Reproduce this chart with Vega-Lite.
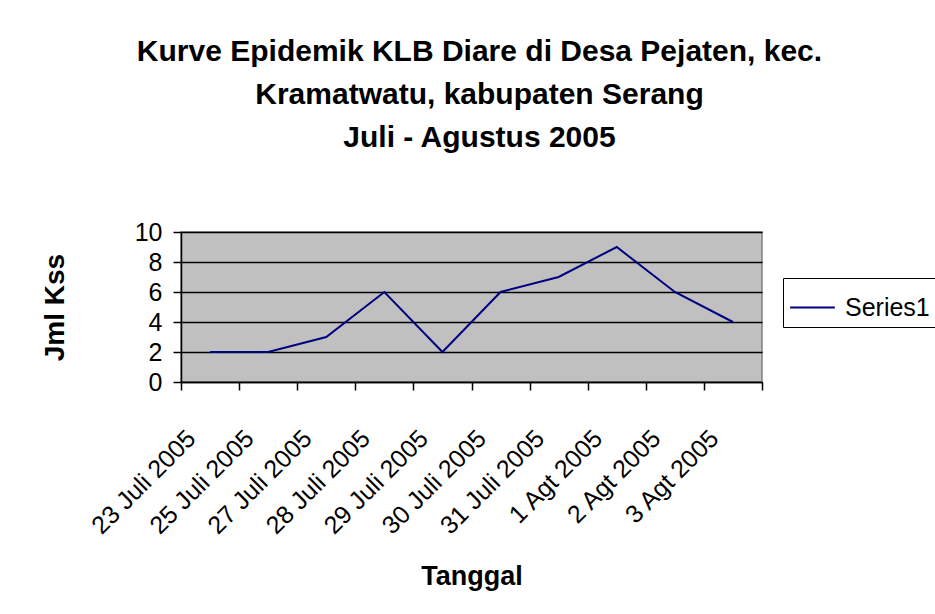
{
  "$schema": "https://vega.github.io/schema/vega-lite/v6.json",
  "width": 581,
  "height": 150,
  "autosize": {"type": "none"},
  "padding": {"left": 181, "top": 232, "right": 173, "bottom": 232},
  "background": "white",
  "title": {
    "text": ["Kurve Epidemik KLB Diare di Desa Pejaten, kec.", "Kramatwatu, kabupaten Serang", "Juli - Agustus 2005"],
    "font": "Liberation Sans",
    "fontSize": 30,
    "fontWeight": "bold",
    "color": "black",
    "anchor": "middle",
    "frame": "group",
    "baseline": "bottom",
    "lineHeight": 43,
    "offset": 37,
    "dx": 8
  },
  "data": {
    "values": [
      {"Tanggal": "23 Juli 2005", "Jml": 2},
      {"Tanggal": "25 Juli 2005", "Jml": 2},
      {"Tanggal": "27 Juli 2005", "Jml": 3},
      {"Tanggal": "28 Juli 2005", "Jml": 6},
      {"Tanggal": "29 Juli 2005", "Jml": 2},
      {"Tanggal": "30 Juli 2005", "Jml": 6},
      {"Tanggal": "31 Juli 2005", "Jml": 7},
      {"Tanggal": "1 Agt  2005", "Jml": 9},
      {"Tanggal": "2 Agt 2005", "Jml": 6},
      {"Tanggal": "3 Agt 2005", "Jml": 4}
    ]
  },
  "mark": {"type": "line", "strokeWidth": 2, "interpolate": "linear"},
  "encoding": {
    "x": {
      "field": "Tanggal",
      "type": "ordinal",
      "sort": null,
      "scale": {"type": "band", "paddingInner": 0, "paddingOuter": 0},
      "axis": {
        "title": "Tanggal",
        "titleFont": "Liberation Sans",
        "titleFontSize": 27,
        "titleFontWeight": "bold",
        "titleColor": "black",
        "titleY": 202,
        "titleBaseline": "alphabetic",
        "labelAngle": -45,
        "labelAlign": "right",
        "labelBaseline": "middle",
        "labelFont": "Liberation Sans",
        "labelFontSize": 25,
        "labelColor": "black",
        "labelOffset": -19,
        "labelPadding": 44,
        "labelOverlap": false,
        "labelBound": false,
        "tickBand": "extent",
        "ticks": true,
        "tickSize": 8,
        "tickColor": "black",
        "tickWidth": 1.5,
        "domainColor": "black",
        "domainWidth": 1.5,
        "grid": false
      }
    },
    "y": {
      "field": "Jml",
      "type": "quantitative",
      "scale": {"domain": [0, 10], "nice": false},
      "axis": {
        "title": "Jml Kss",
        "titleFont": "Liberation Sans",
        "titleFontSize": 28,
        "titleFontWeight": "bold",
        "titleColor": "black",
        "titleAngle": -90,
        "titleX": -118,
        "titleY": 75,
        "titleAlign": "center",
        "titleBaseline": "alphabetic",
        "values": [0, 2, 4, 6, 8, 10],
        "labelFont": "Liberation Sans",
        "labelFontSize": 25,
        "labelColor": "black",
        "labelPadding": 11,
        "tickSize": 8,
        "tickColor": "black",
        "tickWidth": 1.5,
        "domainColor": "black",
        "domainWidth": 1.5,
        "grid": true,
        "gridColor": "black",
        "gridWidth": 1.5,
        "gridOpacity": 1
      }
    },
    "color": {
      "datum": "Series1",
      "type": "nominal",
      "scale": {"range": ["#000080"]},
      "legend": {
        "title": null,
        "orient": "none",
        "legendX": 602,
        "legendY": 46,
        "padding": 6,
        "strokeColor": "black",
        "fillColor": "white",
        "symbolType": "stroke",
        "symbolSize": 2000,
        "symbolStrokeWidth": 2,
        "labelFont": "Liberation Sans",
        "labelFontSize": 25,
        "labelColor": "black",
        "labelOffset": 9,
        "labelLimit": 300
      }
    }
  },
  "config": {
    "view": {"fill": "#C0C0C0", "stroke": "#808080", "strokeWidth": 1.5}
  }
}
